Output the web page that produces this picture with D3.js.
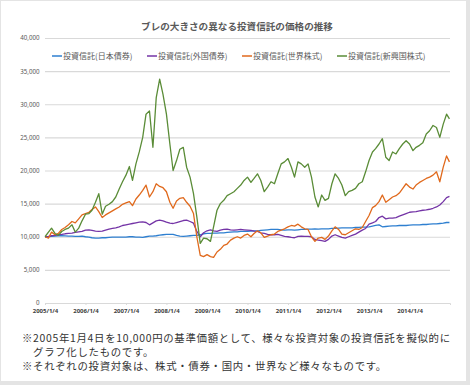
<!DOCTYPE html>
<html>
<head>
<meta charset="utf-8">
<script src="https://cdn.jsdelivr.net/npm/d3@7"></script>
<style>
  body { margin: 0; background: #fff; }
  svg { display: block; }
</style>
</head>
<body>
<div id="chart"></div>
<script>
// monthly readings, 2005/1 .. 2014/12, plus the last day of the data
const startDate = new Date(2005, 0, 4);
const endDate = new Date(2014, 11, 30);

const seriesNames = ["投資信託(日本債券)", "投資信託(外国債券)", "投資信託(世界株式)", "投資信託(新興国株式)"];
const seriesColors = ["#2e7fd0", "#7434a6", "#e0691c", "#5a8c37"];

const japanBond = [
  10000, 10020, 10050, 10100, 10150, 10150, 10120, 10100, 10100, 10050, 10050, 10100,
  10000, 9950, 9850, 9800, 9800, 9850, 9850, 9900, 9950, 9950, 9950, 9950,
  9950, 10000, 10000, 9950, 9950, 9900, 10000, 10100, 10100, 10150, 10250, 10300,
  10350, 10350, 10350, 10200, 10100, 10050, 10100, 10150, 10200, 10200, 10300, 10450,
  10500, 10500, 10550, 10550, 10600, 10600, 10650, 10700, 10750, 10750, 10800, 10800,
  10800, 10850, 10900, 10900, 10950, 11000, 11050, 11100, 11100, 11100, 11050, 11000,
  11050, 11050, 11000, 11050, 11100, 11100, 11150, 11150, 11200, 11150, 11200, 11200,
  11200, 11250, 11250, 11300, 11350, 11350, 11350, 11350, 11400, 11400, 11450, 11450,
  11500, 11600, 11700, 11800, 11500, 11550, 11600, 11650, 11650, 11700, 11700, 11700,
  11750, 11800, 11800, 11800, 11850, 11850, 11900, 11950, 11950, 12000, 12050, 12150,
  12150
];

const foreignBond = [
  10000, 10050, 10150, 10200, 10300, 10350, 10450, 10500, 10550, 10650, 10750, 10800,
  11000, 11050, 10950, 10850, 10800, 10850, 11000, 11150, 11250, 11350, 11500, 11700,
  11800, 11900, 12000, 12100, 12200, 12250, 12150, 11800, 12100, 12400, 12500, 12400,
  12200, 12050, 12000, 12150, 12300, 12450, 12500, 12300, 12050, 10800, 10000, 10600,
  10900, 11050, 10900, 10800, 11000, 11100, 11150, 11050, 11000, 11050, 11100, 11050,
  11000, 10950, 10850, 10800, 10600, 10500, 10350, 10300, 10300, 10350, 10200, 10050,
  10000, 9900, 9850, 10050, 10100, 10050, 10050, 10000, 9600, 9500, 9400, 9300,
  9600, 10100, 10300, 10100, 9900, 9800, 10000, 10200, 10400, 10700, 11000, 11250,
  11900, 12100, 12300, 12900, 13100, 12700, 12800, 12800, 12900, 13100, 13300, 13500,
  13700, 13750, 13800, 13900, 14000, 14050, 14150, 14300, 14500, 14800, 15300, 15900,
  16100
];

const worldStock = [
  10000, 9800, 10700, 10300, 10500, 11100, 11400, 11800, 12300, 12100, 12700, 13300,
  13500, 13700, 14100, 14500, 13800, 12900, 13300, 13600, 13900, 14200, 14500, 14900,
  15100, 15300, 14700, 15700, 16300, 17000, 17800, 16000, 16800, 18000, 17600, 17400,
  16800, 15200, 14300, 15400, 15800, 15900, 15200, 14600, 13500, 10000, 7200, 7000,
  7300, 7000, 6900, 7700, 8100, 8700, 8900, 9500, 9800, 10000, 9800, 10200,
  10400, 10000, 10500, 10900, 10600, 9900, 10100, 10300, 10400, 10800, 11000, 11200,
  11500, 11700, 11600, 11900, 11500, 11200, 11100, 10000, 9300, 9800, 9900, 9600,
  10100, 10900, 11500, 11100, 10400, 10300, 10600, 10900, 11200, 11100, 11400, 12300,
  13200, 14400, 14700, 15300, 16300, 15200, 15600, 16000, 16200, 16600, 17300, 18000,
  17500, 17200, 17800, 18200, 18500, 18800, 19000, 19300, 19800, 18300, 20500, 22200,
  21300
];

const emergingStock = [
  10000, 10700, 11300, 10500, 10200, 10800, 11100, 11300, 11800, 10700, 11300, 12400,
  13400, 13500, 14000, 15200, 16500, 13400, 14600, 14900, 15300, 16000, 17200, 18300,
  19300, 20600, 18500, 21000, 22800, 25000, 28500, 29000, 23500, 31000, 33800, 31500,
  28500, 24000, 20000, 21500, 23200, 23500, 20500, 19000, 16500, 13000, 9000, 9800,
  9700, 9300, 11500, 14000, 15000, 15500, 16200, 16500, 16800, 17300, 17800, 18500,
  19000, 18200, 18800, 19500, 18500, 16800, 17500, 18300, 18000, 19500, 21000, 21300,
  21800, 20500, 19000, 21300, 21000, 20500, 21000, 19000, 16000, 14500, 16300, 15500,
  15800, 18000, 19500, 18800, 17800, 16200, 16800, 17000, 17300, 18000, 18300, 19800,
  21500, 22800, 23300, 24000, 24800, 22000, 21500, 22800, 22500, 23300, 24000, 24500,
  24000, 23000, 23500, 23800, 24200, 25500, 26000, 26800, 26500, 25000, 27000, 28500,
  27800
];

const yTicks = [0, 5000, 10000, 15000, 20000, 25000, 30000, 35000, 40000];
const xTickYears = [2005, 2006, 2007, 2008, 2009, 2010, 2011, 2012, 2013, 2014];

const notes = [
  "※2005年1月4日を10,000円の基準価額として、様々な投資対象の投資信託を擬似的に",
  "　グラフ化したものです。",
  "※それぞれの投資対象は、株式・債券・国内・世界など様々なものです。"
];

const width = 470, height = 385;
const jp = "'Noto Sans CJK JP', 'Noto Sans', sans-serif";

const dates = d3.range(120).map(i => d3.timeMonth.offset(startDate, i)).concat([endDate]);
const allSeries = [japanBond, foreignBond, worldStock, emergingStock];

const svg = d3.select("#chart")
  .append("svg")
  .attr("width", width)
  .attr("height", height);

// frame
svg.append("rect").attr("width", width).attr("height", height).attr("fill", "#e4e4e4");
svg.append("rect").attr("x", 1).attr("y", 1).attr("width", 465).attr("height", 380).attr("fill", "#fff");

const x = d3.scaleTime()
  .domain([startDate, new Date(2015, 0, 4)])
  .range([45, 450]);

const y = d3.scaleLinear()
  .domain([0, 40000])
  .range([303, 38]);

// y grid + labels
const yAxis = svg.append("g")
  .attr("transform", "translate(45,0)")
  .call(d3.axisLeft(y).tickValues(yTicks).tickFormat(d3.format(",")).tickSize(-405).tickPadding(5.5));
yAxis.select(".domain").remove();
yAxis.selectAll(".tick line").attr("stroke", "#d9d9d9").attr("stroke-width", 1.2);
yAxis.selectAll("text")
  .attr("fill", "#595959")
  .style("font-family", "'Noto Sans', sans-serif")
  .style("font-size", "6.2px");

// x axis
const xAxis = svg.append("g")
  .attr("transform", "translate(0,303)")
  .call(d3.axisBottom(x)
    .tickValues(xTickYears.map(yr => new Date(yr, 0, 4)))
    .tickFormat(d3.timeFormat("%Y/%-m/%-d"))
    .tickSize(2).tickPadding(4));
xAxis.select(".domain").attr("stroke", "#d9d9d9");
xAxis.selectAll(".tick line").attr("stroke", "#d9d9d9");
xAxis.selectAll("text")
  .attr("fill", "#404040")
  .style("font-family", "'Noto Sans', sans-serif")
  .style("font-size", "6px")
  .style("font-weight", "bold");

// lines
const line = d3.line()
  .x((d, i) => x(dates[i]))
  .y(d => y(d));

svg.append("g")
  .selectAll("path")
  .data(allSeries)
  .join("path")
  .attr("d", line)
  .attr("fill", "none")
  .attr("stroke", (d, i) => seriesColors[i])
  .attr("stroke-width", 1.3)
  .attr("stroke-linejoin", "round");

// title
svg.append("text")
  .attr("x", 237)
  .attr("y", 30)
  .attr("text-anchor", "middle")
  .attr("fill", "#595959")
  .style("font-family", jp)
  .style("font-size", "9.6px")
  .style("font-weight", "bold")
  .text("ブレの大きさの異なる投資信託の価格の推移");

// legend
const legendX = [52, 147, 242, 337];
const legend = svg.append("g")
  .selectAll("g")
  .data(seriesNames)
  .join("g")
  .attr("transform", (d, i) => `translate(${legendX[i]},56)`);
legend.append("line")
  .attr("x1", 0).attr("x2", 10)
  .attr("stroke", (d, i) => seriesColors[i])
  .attr("stroke-width", 1.5);
legend.append("text")
  .attr("x", 11)
  .attr("dy", "0.35em")
  .attr("fill", "#595959")
  .style("font-family", jp)
  .style("font-size", "8px")
  .text(d => d);

// notes
svg.append("g")
  .selectAll("text")
  .data(notes)
  .join("text")
  .attr("x", 22)
  .attr("y", (d, i) => 342 + i * 14)
  .attr("fill", "#333")
  .style("font-family", jp)
  .style("font-size", "10.4px")
  .style("letter-spacing", "0.7px")
  .text(d => d);
</script>
</body>
</html>
